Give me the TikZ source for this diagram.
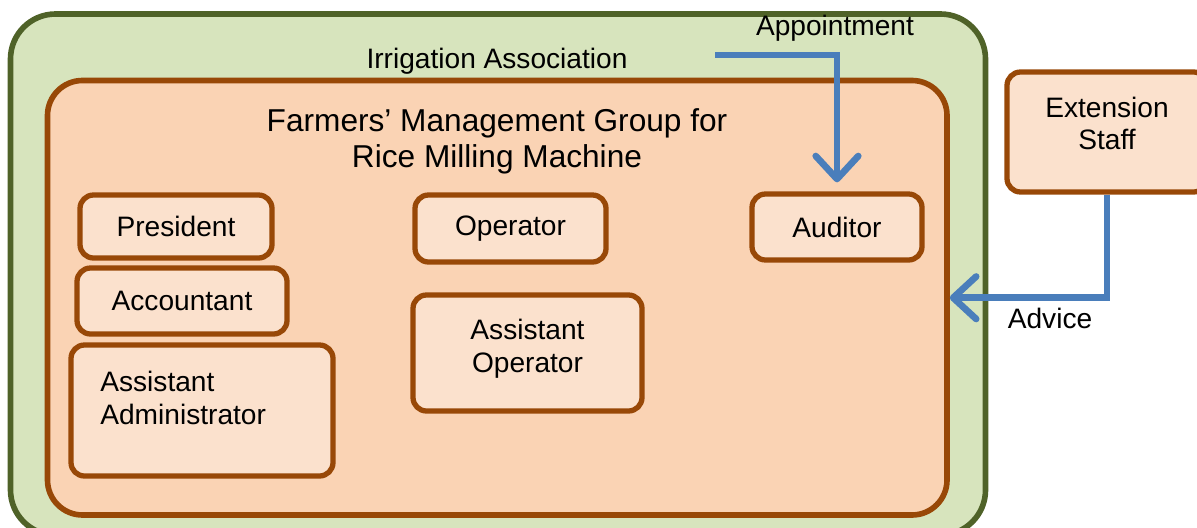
\documentclass[tikz,border=0pt]{standalone}
\usepackage{fontspec}
\setmainfont{Liberation Sans}
\usepackage{tikz}
\usetikzlibrary{positioning, arrows.meta}
\definecolor{assocfill}{HTML}{D7E4BD}
\definecolor{assocline}{HTML}{4F6228}
\definecolor{groupfill}{HTML}{FAD3B4}
\definecolor{roleline}{HTML}{984807}
\definecolor{rolefill}{HTML}{FBE1CD}
\definecolor{linkblue}{HTML}{4A7EBB}
\tikzset{
	>={Straight Barb[length=4.6mm,width=8.5mm,round]}, % open arrow heads
	every node/.style={font=\fontsize{16}{18.7}\selectfont}, % text size of all labels
	assoc/.style={draw=assocline, fill=assocfill, line width=3.2pt, rounded corners=0.9cm, inner sep=0pt}, % outer box
	group/.style={draw=roleline, fill=groupfill, line width=3.2pt, rounded corners=0.7cm, inner sep=0pt}, % inner box
	role/.style={draw=roleline, fill=rolefill, line width=3pt, rounded corners=0.27cm, inner sep=0pt, align=center}, % one box per role
	link/.style={->, draw=linkblue, line width=3.8pt}, % blue connectors
}
\begin{document}
\begin{tikzpicture}
	\useasboundingbox (0,0) rectangle (23.94,-10.54);
	\clip (0,0) rectangle (23.94,-10.54);
	% the two nested groups
	\node (irr) at (9.96,-5.49) [assoc, minimum width=19.5cm, minimum height=10.42cm] {};
	\node (irrtxt) at (9.94,-1.22) {Irrigation Association};
	\node (fmg) at (9.945,-5.955) [group, minimum width=17.99cm, minimum height=8.69cm] {};
	\node (fmgtxt) at (9.94,-2.82) [align=center, font=\fontsize{18}{20.5}\selectfont] {Farmers’ Management Group for\\Rice Milling Machine};
	% roles inside the group
	\node (pres) at (3.52,-4.53) [role, minimum width=3.84cm, minimum height=1.26cm] {President};
	\node (acc) at (3.64,-6.02) [role, minimum width=4.2cm, minimum height=1.32cm] {Accountant};
	\node (asad) at (4.04,-8.21) [role, minimum width=5.24cm, minimum height=2.62cm] {};
	\node (asadtxt) at (2.0,-7.42) [anchor=north west, align=left, inner sep=0pt] {Assistant\\Administrator};
	\node (op) at (10.21,-4.57) [role, minimum width=3.82cm, minimum height=1.34cm] {Operator};
	\node (asop) at (10.55,-7.06) [role, minimum width=4.58cm, minimum height=2.32cm, text depth=0.3cm] {Assistant\\Operator};
	\node (aud) at (16.74,-4.54) [role, minimum width=3.4cm, minimum height=1.32cm] {Auditor};
	% outside staff
	\node (ext) at (22.14,-2.64) [role, minimum width=4.0cm, minimum height=2.4cm, text depth=0.35cm] {Extension\\Staff};
	% connectors
	\coordinate (appfrom) at (14.3,-1.1);
	\draw [link, shorten >=1.8mm] (appfrom) -| (aud.north);
	\node (apptxt) at (16.7,-0.56) {Appointment};
	\draw [link] (ext.south) |- (fmg.east);
	\node (advtxt) at (21.0,-6.36) {Advice};
\end{tikzpicture}
\end{document}
